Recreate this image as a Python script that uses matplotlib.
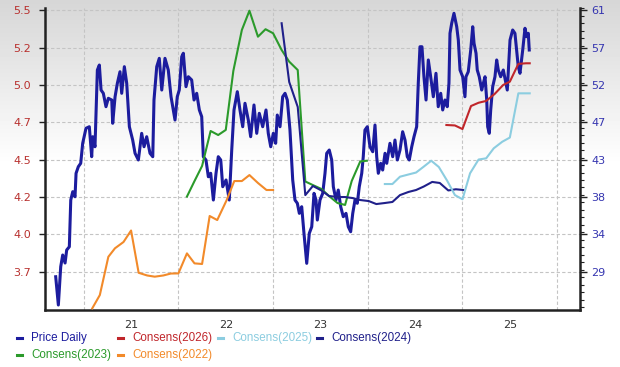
import numpy as np
import matplotlib
matplotlib.use("Agg")
import matplotlib.pyplot as plt
from matplotlib.lines import Line2D
from matplotlib.ticker import MultipleLocator

# daily price (right axis), time in fractional years
price_t = [
    2020.204, 2020.232, 2020.257, 2020.278, 2020.303, 2020.320, 2020.348, 2020.363, 2020.384, 2020.408,
    2020.419, 2020.443, 2020.468, 2020.489, 2020.524, 2020.559, 2020.584, 2020.595, 2020.619, 2020.644,
    2020.665, 2020.683, 2020.707, 2020.735, 2020.760, 2020.796, 2020.806, 2020.831, 2020.855, 2020.883,
    2020.901, 2020.929, 2020.954, 2020.982, 2021.017, 2021.042, 2021.077, 2021.112, 2021.137, 2021.165,
    2021.200, 2021.229, 2021.242, 2021.271, 2021.298, 2021.324, 2021.358, 2021.393, 2021.422, 2021.446,
    2021.464, 2021.488, 2021.509, 2021.535, 2021.552, 2021.580, 2021.605, 2021.640, 2021.665, 2021.693,
    2021.721, 2021.746, 2021.763, 2021.791, 2021.816, 2021.841, 2021.869, 2021.897, 2021.921, 2021.947,
    2021.968, 2022.003, 2022.037, 2022.063, 2022.087, 2022.122, 2022.150, 2022.179, 2022.203, 2022.238,
    2022.263, 2022.298, 2022.327, 2022.354, 2022.390, 2022.425, 2022.449, 2022.475, 2022.502, 2022.527,
    2022.544, 2022.573, 2022.601, 2022.626, 2022.650, 2022.678, 2022.707, 2022.731, 2022.756, 2022.777,
    2022.802, 2022.826, 2022.855, 2022.882, 2022.908, 2022.932, 2022.953, 2022.967, 2022.995, 2023.024,
    2023.048, 2023.066, 2023.093, 2023.119, 2023.136, 2023.164, 2023.188, 2023.214, 2023.241, 2023.270,
    2023.294, 2023.319, 2023.341, 2023.365, 2023.389, 2023.410, 2023.436, 2023.452, 2023.470, 2023.495,
    2023.523, 2023.552, 2023.576, 2023.594, 2023.611, 2023.636, 2023.657, 2023.682, 2023.700, 2023.734,
    2023.763, 2023.787, 2023.812, 2023.840, 2023.868, 2023.893, 2023.917, 2023.938, 2023.964, 2023.988,
    2024.016, 2024.033, 2024.051, 2024.072, 2024.093, 2024.115, 2024.139, 2024.164, 2024.192, 2024.220,
    2024.244, 2024.270, 2024.291, 2024.315, 2024.339, 2024.357, 2024.368, 2024.386, 2024.410, 2024.439,
    2024.456, 2024.474, 2024.502, 2024.526, 2024.537, 2024.561, 2024.587, 2024.608, 2024.622, 2024.643,
    2024.656, 2024.677, 2024.703, 2024.720, 2024.738, 2024.756, 2024.766, 2024.783, 2024.798, 2024.819,
    2024.843, 2024.861, 2024.878, 2024.903, 2024.931, 2024.959, 2024.973, 2025.002, 2025.030, 2025.054,
    2025.072, 2025.089, 2025.107, 2025.136, 2025.160, 2025.178, 2025.195, 2025.205,
]
price_v = [
    28.39, 24.93, 29.62, 31.05, 30.07, 31.66, 32.06, 37.78, 38.80, 38.18,
    41.05, 41.86, 42.27, 44.72, 46.56, 46.75, 43.08, 45.53, 44.30, 53.69,
    54.30, 51.24, 50.84, 49.20, 50.23, 50.02, 47.17, 50.42, 52.06, 53.48,
    50.84, 54.10, 52.06, 46.75, 45.12, 43.50, 42.68, 45.94, 44.30, 45.53,
    43.50, 43.08, 50.02, 54.10, 55.12, 51.24, 55.12, 53.69, 50.42, 48.80,
    47.57, 50.42, 51.24, 55.32, 55.74, 51.65, 52.87, 52.47, 50.02, 50.84,
    48.80, 47.98, 43.08, 42.68, 40.63, 41.05, 37.78, 41.05, 43.08, 42.68,
    39.41, 40.23, 37.78, 43.90, 48.80, 51.04, 48.80, 46.75, 49.62, 47.57,
    45.53, 49.41, 45.94, 48.39, 46.75, 48.80, 45.94, 44.30, 45.94, 44.72,
    48.18, 46.75, 50.42, 50.84, 50.02, 46.35, 40.23, 37.78, 37.38, 36.15,
    36.96, 33.70, 30.03, 33.70, 34.51, 38.60, 37.78, 35.33, 37.78, 38.60,
    41.05, 43.50, 43.90, 42.68, 39.41, 37.78, 39.00, 36.96, 35.74, 36.15,
    34.51, 33.90, 36.15, 37.78, 37.38, 39.41, 41.05, 43.08, 46.35, 46.75,
    44.30, 43.69, 46.96, 43.08, 41.05, 42.27, 41.45, 43.50, 42.27, 44.72,
    43.08, 45.12, 42.68, 43.90, 46.14, 45.12, 43.08, 42.68, 44.30, 45.53,
    46.75, 52.06, 56.54, 56.54, 52.87, 50.02, 54.92, 52.87, 50.42, 53.29,
    49.20, 50.84, 48.80, 50.02, 49.20, 52.06, 58.18, 59.41, 60.63, 58.99,
    57.36, 53.69, 52.87, 50.42, 52.87, 53.48, 56.14, 58.99, 56.96, 55.74,
    53.69, 52.87, 51.24, 52.06, 52.87, 50.02, 46.75, 45.94, 48.80, 51.65,
    52.87, 54.92, 53.69, 52.87, 53.69, 52.06, 51.24, 57.36, 58.59, 58.18,
    56.14, 54.10, 53.29, 56.14, 58.80, 57.77, 58.18, 56.14,
]

# monthly consensus EPS per fiscal year (left axis)
c2022_t = [2020.59, 2020.67, 2020.76, 2020.83, 2020.92, 2021.00, 2021.08, 2021.17, 2021.25, 2021.34,
           2021.42, 2021.50, 2021.59, 2021.67, 2021.75, 2021.83, 2021.91, 2022.01, 2022.09, 2022.17,
           2022.25, 2022.34, 2022.43, 2022.50]
c2022_v = [3.455, 3.544, 3.800, 3.857, 3.899, 3.976, 3.693, 3.675, 3.667, 3.675,
           3.688, 3.689, 3.823, 3.756, 3.752, 4.073, 4.046, 4.180, 4.307, 4.307,
           4.347, 4.294, 4.247, 4.247]

c2023_t = [2021.59, 2021.67, 2021.75, 2021.84, 2021.92, 2022.00, 2022.08, 2022.17, 2022.25, 2022.34,
           2022.42, 2022.50, 2022.59, 2022.67, 2022.76, 2022.84, 2022.92, 2023.01, 2023.09, 2023.18,
           2023.26, 2023.33, 2023.42, 2023.49]
c2023_v = [4.203, 4.307, 4.408, 4.642, 4.615, 4.649, 5.044, 5.318, 5.447, 5.273,
           5.323, 5.296, 5.184, 5.106, 5.050, 4.304, 4.280, 4.254, 4.207, 4.160,
           4.147, 4.307, 4.438, 4.443]

c2024_t = [2022.59, 2022.67, 2022.76, 2022.84, 2022.92, 2023.01, 2023.09, 2023.18, 2023.26, 2023.34,
           2023.42, 2023.51, 2023.59, 2023.68, 2023.76, 2023.84, 2023.93, 2024.01, 2024.09, 2024.18,
           2024.26, 2024.35, 2024.43, 2024.51]
c2024_v = [5.363, 4.970, 4.803, 4.213, 4.274, 4.244, 4.207, 4.200, 4.200, 4.193,
           4.180, 4.173, 4.153, 4.160, 4.167, 4.213, 4.234, 4.247, 4.270, 4.301,
           4.294, 4.244, 4.252, 4.247]

c2025_t = [2023.68, 2023.76, 2023.84, 2023.93, 2024.01, 2024.09, 2024.17, 2024.25, 2024.34, 2024.42,
           2024.50, 2024.58, 2024.67, 2024.75, 2024.83, 2024.92, 2025.00, 2025.09, 2025.17, 2025.21]
c2025_v = [4.287, 4.287, 4.336, 4.351, 4.364, 4.403, 4.443, 4.401, 4.307, 4.213,
           4.185, 4.359, 4.451, 4.459, 4.526, 4.570, 4.598, 4.894, 4.894, 4.894]

c2026_t = [2024.33, 2024.42, 2024.50, 2024.59, 2024.67, 2024.75, 2024.84, 2024.93, 2025.00, 2025.09,
           2025.17, 2025.21]
c2026_v = [4.682, 4.679, 4.655, 4.809, 4.831, 4.843, 4.890, 4.950, 4.972, 5.091,
           5.095, 5.095]

eps_ticks = [3.7, 3.95, 4.2, 4.45, 4.7, 4.95, 5.2, 5.45]
eps_labels = ["3.7", "4.0", "4.2", "4.5", "4.7", "5.0", "5.2", "5.5"]
price_ticks = [29.0, 33.57, 38.14, 42.71, 47.29, 51.86, 56.43, 61.0]
price_labels = ["29", "34", "38", "43", "47", "52", "57", "61"]
year_ticks = [2021, 2022, 2023, 2024, 2025]
year_labels = ["21", "22", "23", "24", "25"]
year_grid = [2020.5, 2021.5, 2022.5, 2023.5, 2024.5, 2025.5]

col_price = "#1c1c9e"
col_26 = "#c0262b"
col_25 = "#8ccde0"
col_24 = "#20208a"
col_23 = "#2b9a2b"
col_22 = "#f28a2a"

W, H = 620, 367
fig = plt.figure(figsize=(W / 100, H / 100), dpi=100)

# grey-to-white background
bg = fig.add_axes([0, 0, 1, 1], zorder=-10)
g = np.clip(np.linspace(0, 1, H) / 0.45, 0, 1)
bg.imshow((0.84 + 0.16 * g)[:, None], cmap="gray", vmin=0, vmax=1,
          aspect="auto", extent=[0, 1, 0, 1])
bg.axis("off")

# lower axes: price + grid, upper twin: consensus EPS
ax = fig.add_axes([45 / W, 1 - 310 / H, 535 / W, 302 / H])
ax.patch.set_visible(False)
ax2 = ax.twinx()
ax.yaxis.tick_right()
ax2.yaxis.tick_left()

ax.plot(price_t, price_v, color=col_price, lw=2.2, solid_joinstyle="round")
ax.set_xlim(2020.091, 2025.741)
ax.set_ylim(24.32, 61.28)
ax.set_yticks(price_ticks)
ax.set_yticklabels(price_labels)
ax.yaxis.set_minor_locator(MultipleLocator(32 / 35))
ax.tick_params(axis="y", which="major", length=5, width=1, pad=3,
               labelsize=8, labelcolor="#3535b0", color="#222222")
ax.tick_params(axis="y", which="minor", length=3, width=0.8, color="#222222")
ax.set_xticks(year_ticks)
ax.set_xticklabels(year_labels)
ax.set_xticks(year_grid, minor=True)
ax.tick_params(axis="x", which="both", length=0, pad=7, labelsize=8,
               labelcolor="#333333")
ax.grid(which="minor", axis="x", color="#c4c4c4", ls=(0, (3, 2)), lw=0.8)
ax.grid(which="major", axis="y", color="#c4c4c4", ls=(0, (3, 2)), lw=0.8)
for s in ["left", "bottom", "right"]:
    ax.spines[s].set_color("#222222")
    ax.spines[s].set_linewidth(1.8)
ax.spines["top"].set_visible(False)

for t, v, c in [(c2022_t, c2022_v, col_22), (c2023_t, c2023_v, col_23),
                (c2024_t, c2024_v, col_24), (c2025_t, c2025_v, col_25),
                (c2026_t, c2026_v, col_26)]:
    ax2.plot(t, v, color=c, lw=1.5, solid_joinstyle="round")
ax2.set_ylim(3.444, 5.465)
ax2.set_yticks(eps_ticks)
ax2.set_yticklabels(eps_labels)
ax2.tick_params(axis="y", length=4, width=1, pad=6, labelsize=8,
                labelcolor="#b8302e", color="#222222")
for s in ax2.spines.values():
    s.set_visible(False)

# legend
entries = [("Price Daily", col_price), ("Consens(2026)", col_26),
           ("Consens(2025)", col_25), ("Consens(2024)", col_24),
           ("Consens(2023)", col_23), ("Consens(2022)", col_22)]
text_x = [31, 132, 232, 331]
for i, (lab, c) in enumerate(entries):
    row, col = divmod(i, 4)
    x0 = text_x[col]
    y0 = 338 + row * 17
    fig.add_artist(Line2D([(x0 - 14) / W, (x0 - 9) / W], [1 - y0 / H] * 2,
                          color=c, lw=2.2, transform=fig.transFigure))
    fig.text(x0 / W, 1 - y0 / H, lab, color=c, fontsize=8.4,
             family=["Liberation Sans", "DejaVu Sans"], va="center", ha="left")

fig.savefig("out.png", dpi=100)
